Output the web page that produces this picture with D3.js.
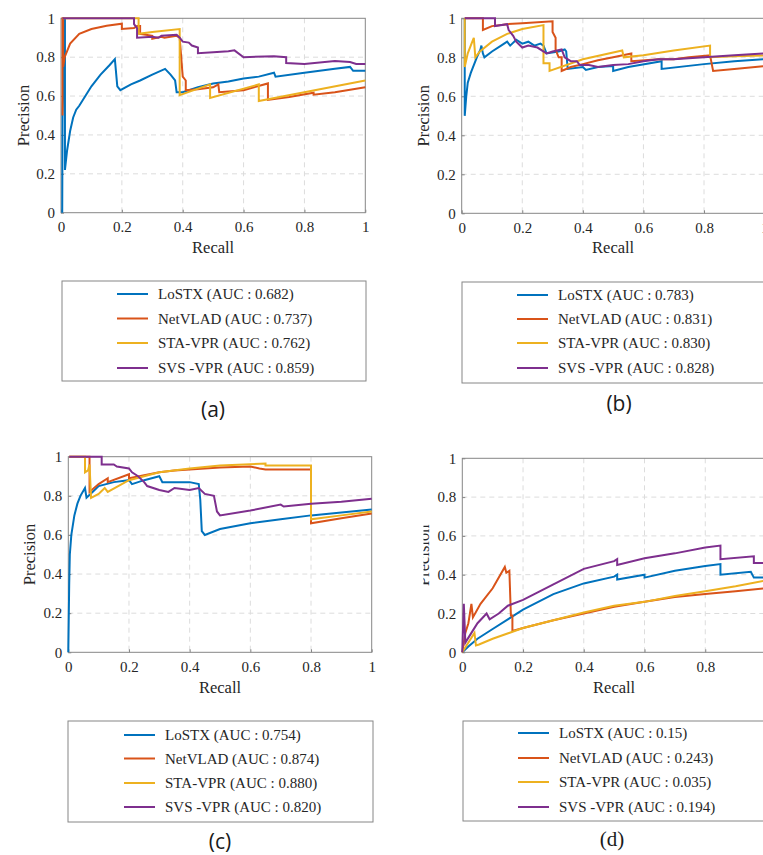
<!DOCTYPE html>
<html>
<head>
<meta charset="utf-8">
<script src="https://cdn.jsdelivr.net/npm/d3@7"></script>
<style>
  body { margin: 0; background: #fff; }
  svg { display: block; }
</style>
</head>
<body>
<div id="chart"></div>
<script>
// series names, colours and tick values
const seriesNames = ["LoSTX", "NetVLAD", "STA-VPR", "SVS -VPR"];
const seriesColors = ["#0072BD", "#D95319", "#EDB120", "#7E2F8E"];
const tickValues = [0, 0.2, 0.4, 0.6, 0.8, 1];
const tickLabels = ["0", "0.2", "0.4", "0.6", "0.8", "1"];

// AUC values shown in legends
const aucA = ["0.682", "0.737", "0.762", "0.859"];
const aucB = ["0.783", "0.831", "0.830", "0.828"];
const aucC = ["0.754", "0.874", "0.880", "0.820"];
const aucD = ["0.15", "0.243", "0.035", "0.194"];

// (a) recall / precision points
const aLoSTX = [[0.004,0],[0.005,0.5],[0.013,1],[0.013,0.22],[0.02,0.32],[0.03,0.42],[0.04,0.49],[0.05,0.53],[0.06,0.55],[0.08,0.6],[0.1,0.65],[0.13,0.71],[0.16,0.76],[0.177,0.79],[0.185,0.65],[0.195,0.63],[0.23,0.66],[0.26,0.68],[0.3,0.71],[0.342,0.74],[0.36,0.71],[0.375,0.68],[0.38,0.62],[0.4,0.62],[0.45,0.645],[0.5,0.665],[0.55,0.675],[0.6,0.69],[0.65,0.7],[0.7,0.72],[0.705,0.7],[0.8,0.72],[0.9,0.74],[0.95,0.75],[0.96,0.73],[1,0.73]];
const aNetVLAD = [[0.005,0.5],[0.005,1],[0.007,1],[0.007,0.75],[0.012,0.8],[0.03,0.87],[0.06,0.92],[0.1,0.945],[0.15,0.962],[0.2,0.972],[0.2,0.945],[0.24,0.95],[0.25,0.96],[0.26,0.96],[0.26,0.92],[0.3,0.91],[0.3,0.895],[0.33,0.905],[0.34,0.9],[0.38,0.91],[0.39,0.9],[0.395,0.8],[0.4,0.7],[0.41,0.68],[0.41,0.63],[0.45,0.635],[0.5,0.645],[0.517,0.66],[0.52,0.62],[0.6,0.63],[0.68,0.665],[0.68,0.58],[0.75,0.595],[0.83,0.617],[0.83,0.607],[0.9,0.62],[1,0.645]];
const aSTA = [[0.005,1],[0.255,1],[0.255,0.92],[0.3,0.93],[0.39,0.945],[0.39,0.605],[0.49,0.66],[0.49,0.59],[0.65,0.66],[0.65,0.575],[1,0.68]];
const aSVS = [[0.005,1],[0.24,1],[0.24,0.97],[0.25,0.95],[0.25,0.9],[0.3,0.905],[0.32,0.9],[0.33,0.91],[0.38,0.915],[0.39,0.9],[0.4,0.88],[0.42,0.875],[0.43,0.86],[0.45,0.85],[0.45,0.82],[0.5,0.825],[0.55,0.83],[0.57,0.835],[0.6,0.8],[0.7,0.805],[0.74,0.8],[0.74,0.77],[0.8,0.765],[0.9,0.78],[0.95,0.775],[0.97,0.765],[1,0.765]];

// (b)
const bLoSTX = [[0.01,1],[0.01,0.5],[0.015,0.6],[0.02,0.67],[0.03,0.72],[0.04,0.76],[0.05,0.8],[0.062,0.84],[0.065,0.86],[0.07,0.82],[0.075,0.8],[0.1,0.83],[0.13,0.86],[0.15,0.88],[0.16,0.86],[0.18,0.89],[0.2,0.87],[0.22,0.88],[0.24,0.86],[0.26,0.87],[0.27,0.86],[0.28,0.82],[0.32,0.83],[0.34,0.84],[0.345,0.83],[0.35,0.74],[0.4,0.75],[0.41,0.735],[0.45,0.75],[0.5,0.755],[0.5,0.73],[0.55,0.75],[0.66,0.78],[0.66,0.74],[0.8,0.765],[0.9,0.78],[1,0.79]];
const bNetVLAD = [[0.01,1],[0.07,1],[0.07,0.94],[0.1,0.96],[0.15,0.97],[0.2,0.975],[0.3,0.985],[0.3,0.93],[0.31,0.9],[0.31,0.84],[0.32,0.8],[0.33,0.8],[0.33,0.73],[0.36,0.75],[0.4,0.765],[0.45,0.785],[0.5,0.8],[0.56,0.82],[0.56,0.78],[0.65,0.79],[0.7,0.79],[0.75,0.8],[0.82,0.81],[0.83,0.73],[0.9,0.74],[1,0.755]];
const bSTA = [[0.01,1],[0.01,0.75],[0.02,0.82],[0.035,0.88],[0.04,0.9],[0.045,0.8],[0.06,0.83],[0.1,0.88],[0.15,0.92],[0.2,0.945],[0.27,0.965],[0.27,0.77],[0.29,0.77],[0.29,0.73],[0.4,0.79],[0.53,0.835],[0.535,0.8],[0.6,0.81],[0.7,0.835],[0.82,0.86],[0.82,0.8],[0.9,0.805],[1,0.81]];
const bSVS = [[0.01,1],[0.11,1],[0.11,0.96],[0.15,0.97],[0.155,0.94],[0.17,0.91],[0.18,0.88],[0.2,0.85],[0.22,0.86],[0.25,0.85],[0.28,0.82],[0.3,0.83],[0.33,0.84],[0.34,0.8],[0.36,0.78],[0.38,0.78],[0.39,0.76],[0.42,0.76],[0.45,0.75],[0.5,0.76],[0.55,0.765],[0.6,0.78],[0.65,0.79],[0.7,0.79],[0.8,0.8],[0.9,0.81],[1,0.82]];

// (c)
const cLoSTX = [[0,0],[0.003,0.35],[0.005,0.5],[0.01,0.6],[0.02,0.7],[0.03,0.76],[0.04,0.8],[0.055,0.84],[0.06,0.79],[0.08,0.82],[0.1,0.85],[0.15,0.87],[0.2,0.88],[0.21,0.86],[0.25,0.88],[0.3,0.9],[0.31,0.87],[0.35,0.87],[0.4,0.87],[0.43,0.86],[0.435,0.78],[0.44,0.62],[0.45,0.6],[0.5,0.63],[0.6,0.66],[0.7,0.68],[0.8,0.7],[0.9,0.715],[1,0.73]];
const cNetVLAD = [[0.003,1],[0.07,1],[0.07,0.82],[0.1,0.86],[0.13,0.89],[0.13,0.87],[0.2,0.91],[0.2,0.89],[0.3,0.92],[0.35,0.93],[0.4,0.935],[0.5,0.945],[0.6,0.95],[0.63,0.94],[0.65,0.935],[0.8,0.935],[0.8,0.66],[0.9,0.685],[1,0.71]];
const cSTA = [[0.003,1],[0.055,1],[0.055,0.92],[0.065,0.93],[0.07,0.96],[0.075,0.79],[0.1,0.81],[0.12,0.84],[0.13,0.82],[0.2,0.88],[0.3,0.92],[0.4,0.94],[0.5,0.955],[0.65,0.965],[0.65,0.955],[0.8,0.955],[0.8,0.68],[0.9,0.7],[1,0.72]];
const cSVS = [[0.003,1],[0.11,1],[0.11,0.96],[0.15,0.96],[0.16,0.95],[0.2,0.94],[0.21,0.92],[0.23,0.9],[0.25,0.87],[0.26,0.85],[0.3,0.83],[0.33,0.82],[0.35,0.84],[0.4,0.83],[0.43,0.84],[0.45,0.81],[0.48,0.8],[0.49,0.72],[0.5,0.7],[0.6,0.725],[0.7,0.755],[0.71,0.745],[0.8,0.76],[0.9,0.77],[1,0.785]];

// (d)
const dLoSTX = [[0,0],[0.02,0.03],[0.05,0.07],[0.1,0.12],[0.15,0.17],[0.2,0.22],[0.3,0.3],[0.4,0.355],[0.5,0.39],[0.51,0.4],[0.51,0.375],[0.6,0.4],[0.6,0.385],[0.7,0.42],[0.8,0.445],[0.85,0.455],[0.85,0.4],[0.95,0.415],[0.96,0.385],[1,0.385]];
const dNetVLAD = [[0,0],[0.01,0.1],[0.02,0.15],[0.03,0.25],[0.035,0.18],[0.06,0.25],[0.1,0.33],[0.14,0.44],[0.145,0.41],[0.155,0.42],[0.16,0.19],[0.165,0.19],[0.165,0.11],[0.2,0.125],[0.3,0.165],[0.4,0.2],[0.5,0.235],[0.6,0.26],[0.7,0.285],[0.8,0.3],[0.9,0.315],[1,0.33]];
const dSTA = [[0,0],[0.04,0.1],[0.045,0.035],[0.055,0.04],[0.1,0.07],[0.2,0.125],[0.3,0.165],[0.4,0.205],[0.5,0.24],[0.6,0.26],[0.7,0.29],[0.8,0.315],[0.9,0.34],[1,0.37]];
const dSVS = [[0,0],[0.005,0.25],[0.01,0.05],[0.03,0.1],[0.05,0.15],[0.08,0.2],[0.09,0.17],[0.12,0.2],[0.15,0.24],[0.2,0.27],[0.3,0.35],[0.4,0.43],[0.5,0.47],[0.51,0.48],[0.51,0.45],[0.6,0.485],[0.7,0.51],[0.8,0.54],[0.85,0.55],[0.85,0.48],[0.96,0.495],[0.96,0.46],[1,0.46]];

const serif = "'Liberation Serif', 'DejaVu Serif', serif";
const textColor = "#262626";

// panel layout (pixel positions)
const panels = [
  { id: "a", series: [aLoSTX, aNetVLAD, aSTA, aSVS], auc: aucA,
    x0: 61, x1: 365.3, yTop: 18.3, yBot: 212.7, yLabX: 23, xLabY: 253,
    legend: { x: 62, y: 281, w: 304, h: 100, lineX: 117, rows: [294, 318.5, 343, 368] },
    caption: { x: 213, y: 417, font: "'Open Sans', sans-serif" } },
  { id: "b", series: [bLoSTX, bNetVLAD, bSTA, bSVS], auc: aucB,
    x0: 461.7, x1: 764.6, yTop: 18.3, yBot: 213.3, yLabX: 423, xLabY: 253,
    legend: { x: 462, y: 282, w: 304, h: 101, lineX: 517, rows: [295, 319, 343, 368] },
    caption: { x: 619, y: 411, font: "'Open Sans', sans-serif" } },
  { id: "c", series: [cLoSTX, cNetVLAD, cSTA, cSVS], auc: aucC,
    x0: 68.3, x1: 371.7, yTop: 456.7, yBot: 652.3, yLabX: 29, xLabY: 693,
    legend: { x: 68, y: 721, w: 305, h: 101, lineX: 124, rows: [735, 758.5, 783, 807] },
    caption: { x: 220, y: 849, font: "'Open Sans', sans-serif" } },
  { id: "d", series: [dLoSTX, dNetVLAD, dSTA, dSVS], auc: aucD,
    x0: 462.3, x1: 766, yTop: 458.3, yBot: 652.3, yLabX: 423, xLabY: 693, yLabClip: 423.5,
    legend: { x: 463, y: 721, w: 304, h: 100, lineX: 518, rows: [733, 758, 782, 807] },
    caption: { x: 612, y: 846, font: serif } }
];

const svg = d3.select("#chart")
  .append("svg")
  .attr("width", 763)
  .attr("height", 855);

const defs = svg.append("defs");

panels.forEach(p => {
  const x = d3.scaleLinear().domain([0, 1]).range([p.x0, p.x1]);
  const y = d3.scaleLinear().domain([0, 1]).range([p.yBot, p.yTop]);
  const g = svg.append("g").attr("class", "panel-" + p.id);

  // dashed grid
  const grid = g.append("g").attr("stroke", "#dcdcdc").attr("stroke-dasharray", "5,4").attr("stroke-width", 1);
  tickValues.slice(1, -1).forEach(t => {
    grid.append("line").attr("x1", x(t)).attr("x2", x(t)).attr("y1", p.yTop).attr("y2", p.yBot);
    grid.append("line").attr("x1", p.x0).attr("x2", p.x1).attr("y1", y(t)).attr("y2", y(t));
  });

  // frame
  g.append("rect")
    .attr("x", p.x0).attr("y", p.yTop)
    .attr("width", p.x1 - p.x0).attr("height", p.yBot - p.yTop)
    .attr("fill", "none").attr("stroke", "#868686").attr("stroke-width", 1);

  // axes, ticks point inwards like matlab
  const fmt = d => tickLabels[tickValues.indexOf(d)];
  const xAxis = g.append("g")
    .attr("transform", `translate(0,${p.yBot})`)
    .call(d3.axisBottom(x).tickValues(tickValues).tickFormat(fmt).tickSizeInner(-3).tickSizeOuter(0).tickPadding(9));
  const yAxis = g.append("g")
    .attr("transform", `translate(${p.x0},0)`)
    .call(d3.axisLeft(y).tickValues(tickValues).tickFormat(fmt).tickSizeInner(-3).tickSizeOuter(0).tickPadding(6));
  [xAxis, yAxis].forEach(a => {
    a.attr("font-family", serif).attr("font-size", 15);
    a.select(".domain").remove();
    a.selectAll(".tick line").attr("stroke", "#868686");
    a.selectAll(".tick text").attr("fill", textColor);
  });

  // lines
  defs.append("clipPath").attr("id", "clip-" + p.id)
    .append("rect")
    .attr("x", p.x0 - 2).attr("y", p.yTop - 2)
    .attr("width", p.x1 - p.x0 + 4).attr("height", p.yBot - p.yTop + 4);

  const line = d3.line().x(d => x(d[0])).y(d => y(d[1]));
  g.append("g").attr("clip-path", `url(#clip-${p.id})`)
    .selectAll("path")
    .data(p.series)
    .enter()
    .append("path")
    .attr("d", line)
    .attr("fill", "none")
    .attr("stroke", (d, i) => seriesColors[i])
    .attr("stroke-width", 2)
    .attr("stroke-linejoin", "miter");

  // axis labels
  g.append("text")
    .attr("x", (p.x0 + p.x1) / 2)
    .attr("y", p.xLabY)
    .attr("text-anchor", "middle")
    .attr("font-family", serif)
    .attr("font-size", 16.5)
    .attr("fill", textColor)
    .text("Recall");

  // (d) only shows the lower half of its y label in the reference
  if (p.yLabClip) {
    defs.append("clipPath").attr("id", "ylab-" + p.id)
      .append("rect").attr("x", p.yLabClip).attr("y", 0).attr("width", 100).attr("height", 855);
  }
  const yLabHolder = p.yLabClip
    ? g.append("g").attr("clip-path", `url(#ylab-${p.id})`)
    : g;
  yLabHolder.append("text")
    .attr("transform", `translate(${p.yLabX},${(p.yTop + p.yBot) / 2}) rotate(-90)`)
    .attr("text-anchor", "middle")
    .attr("dy", "0.35em")
    .attr("font-family", serif)
    .attr("font-size", 16.5)
    .attr("fill", textColor)
    .text("Precision");

  // legend box
  const L = p.legend;
  const lg = g.append("g");
  lg.append("rect")
    .attr("x", L.x).attr("y", L.y).attr("width", L.w).attr("height", L.h)
    .attr("fill", "#fff").attr("stroke", "#868686").attr("stroke-width", 1);
  seriesNames.forEach((name, i) => {
    lg.append("line")
      .attr("x1", L.lineX).attr("x2", L.lineX + 31)
      .attr("y1", L.rows[i]).attr("y2", L.rows[i])
      .attr("stroke", seriesColors[i]).attr("stroke-width", 2);
    lg.append("text")
      .attr("x", L.lineX + 41)
      .attr("y", L.rows[i])
      .attr("dy", "0.35em")
      .attr("font-family", serif)
      .attr("font-size", 15)
      .attr("fill", textColor)
      .text(`${name} (AUC : ${p.auc[i]})`);
  });

  // caption
  g.append("text")
    .attr("x", p.caption.x)
    .attr("y", p.caption.y)
    .attr("text-anchor", "middle")
    .attr("font-family", p.caption.font)
    .attr("font-size", 21)
    .attr("fill", "#1a1a1a")
    .text(`(${p.id})`);
});
</script>
</body>
</html>
